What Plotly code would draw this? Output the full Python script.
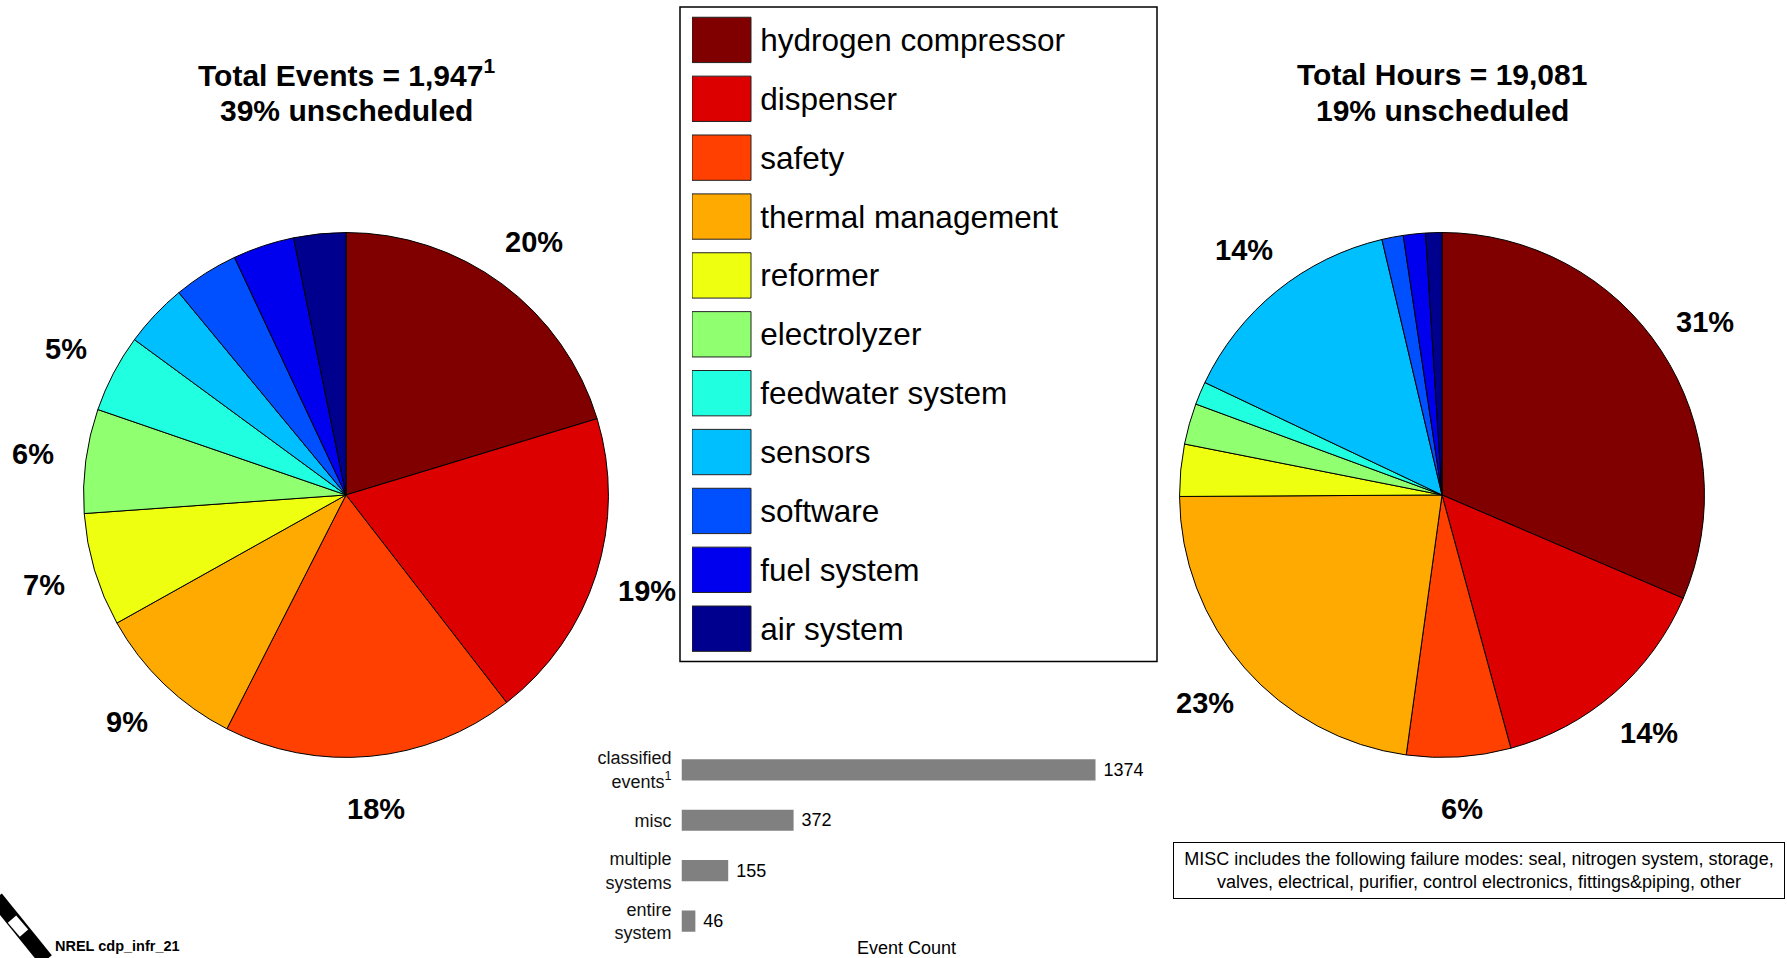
import math
import plotly.graph_objects as go

W, H = 1787, 958

categories = ["hydrogen compressor", "dispenser", "safety", "thermal management",
              "reformer", "electrolyzer", "feedwater system", "sensors",
              "software", "fuel system", "air system"]
colors = ["#800000", "#DD0000", "#FF4000", "#FFAA00", "#EFFF10", "#90FF70",
          "#20FFDF", "#00BFFF", "#0050FF", "#0000EF", "#00008F"]

# classified events by subsystem (left pie)
events = [279, 264, 247, 129, 96, 88, 66, 54, 55, 52, 44]
# maintenance hours by subsystem (right pie)
hours = [5990, 2730, 1220, 4330, 610, 480, 270, 2720, 250, 260, 190]

bar_labels = ["classified<br>events<sup>1</sup>", "misc", "multiple<br>systems", "entire<br>system"]
bar_values = [1374, 372, 155, 46]

FONT = "Liberation Sans, Arial, sans-serif"

fig = go.Figure()

# pie geometry (pixels)
R = 263
pies = [(events, 346, 496), (hours, 1442, 496)]

for vals, cx, cy in pies:
    fig.add_trace(go.Pie(
        labels=categories, values=vals, sort=False, direction="clockwise", rotation=0,
        marker=dict(colors=colors, line=dict(color="black", width=1)),
        textinfo="none", hoverinfo="label+percent", showlegend=False,
        domain=dict(x=[(cx - R) / W, (cx + R) / W], y=[1 - (cy + R) / H, 1 - (cy - R) / H]),
    ))
    total = sum(vals)
    cum = 0
    for v in vals:
        frac = v / total
        mid = (cum + frac / 2) * 2 * math.pi
        cum += frac
        pct = round(frac * 100)
        if pct < 5:
            continue
        d = 1.2 * R
        px = cx + d * math.sin(mid)
        py = cy - d * math.cos(mid)
        fig.add_annotation(x=px / W, y=1 - py / H, xref="paper", yref="paper",
                           text=f"{pct}%", showarrow=False, xanchor="center", yanchor="middle",
                           font=dict(family=FONT, size=29, color="black", weight="bold"))

# titles (one annotation per line)
titles = [(346, [73, 110.5], ["Total Events = 1,947<sup>1</sup>", "39% unscheduled"]),
          (1442, [75, 110.5], ["Total Hours = 19,081", "19% unscheduled"])]
for tx, tys, lines in titles:
    for ty, line in zip(tys, lines):
        fig.add_annotation(x=tx / W, y=1 - ty / H, xref="paper", yref="paper", showarrow=False,
                           xanchor="center", yanchor="middle", text=line,
                           font=dict(family=FONT, size=30, color="black", weight="bold"))

# event count bar chart
fig.add_trace(go.Bar(
    x=bar_values, y=bar_labels, orientation="h", xaxis="x2", yaxis="y2",
    marker=dict(color="#808080", line=dict(width=0)), width=0.42,
    text=["\u00a0" + str(v) for v in bar_values], textposition="outside", cliponaxis=False,
    constraintext="none",
    textfont=dict(family=FONT, size=18, color="black"), showlegend=False,
))

# legend drawn as a bar trace of swatches
fig.add_trace(go.Bar(
    x=[1] * len(categories), y=categories, orientation="h", xaxis="x3", yaxis="y3",
    marker=dict(color=colors, line=dict(color="#222222", width=1)), width=0.77,
    text=["\u2009" + c for c in categories], textposition="outside", cliponaxis=False,
    constraintext="none",
    textfont=dict(family=FONT, size=31.5, color="black"), showlegend=False, hoverinfo="skip",
))

fig.update_layout(
    width=W, height=H, margin=dict(l=0, r=0, t=0, b=0),
    paper_bgcolor="white", plot_bgcolor="white",
    xaxis2=dict(domain=[681.5 / W, 1157 / W], range=[0, 1374 * 475.5 / 414], anchor="y2",
                showgrid=False, zeroline=False, showticklabels=False, showline=False),
    yaxis2=dict(domain=[1 - 943.2 / H, 1 - 743.7 / H], range=[3.4, -0.55], anchor="x2",
                type="category", showgrid=False, zeroline=False, showline=False,
                ticks="", ticklabelstandoff=9,
                tickfont=dict(family=FONT, size=18, color="#111111")),
    xaxis3=dict(domain=[692 / W, 1157 / W], range=[0, 465 / 59], anchor="y3",
                visible=False),
    yaxis3=dict(domain=[1 - 659.5 / H, 1 - 10.5 / H], range=[10.5, -0.5], anchor="x3",
                type="category", visible=False),
    showlegend=False,
)

# legend frame
fig.add_shape(type="rect", xref="paper", yref="paper",
              x0=680 / W, x1=1157 / W, y0=1 - 663 / H, y1=1 - 7 / H,
              line=dict(color="black", width=1.5), fillcolor="rgba(0,0,0,0)")

# axis title for the bar chart
fig.add_annotation(x=907 / W, y=1 - 950 / H, xref="paper", yref="paper", showarrow=False,
                   xanchor="center", yanchor="middle",
                   text="Event Count", font=dict(family=FONT, size=18, color="black"))

# MISC note box
fig.add_annotation(x=(1174 + 1784) / 2 / W, y=1 - 872 / H, xref="paper", yref="paper",
                   showarrow=False, xanchor="center", yanchor="middle",
                   text="MISC includes the following failure modes: seal, nitrogen system, storage,<br>"
                        "valves, electrical, purifier, control electronics, fittings&piping, other",
                   font=dict(family=FONT, size=18, color="black"),
                   bordercolor="black", borderwidth=1, borderpad=6, bgcolor="white",
                   width=598, align="center")

# footer label and logo mark
fig.add_annotation(x=53 / W, y=1 - 948 / H, xref="paper", yref="paper", showarrow=False,
                   xanchor="left", yanchor="middle", text="NREL cdp_infr_21",
                   font=dict(family=FONT, size=14.5, color="black", weight="bold"))
fig.add_shape(type="line", xref="paper", yref="paper",
              x0=-4 / W, y0=1 - 900 / H, x1=46 / W, y1=1 - 962 / H,
              line=dict(color="black", width=15))
fig.add_shape(type="line", xref="paper", yref="paper",
              x0=12 / W, y0=1 - 921 / H, x1=24 / W, y1=1 - 935 / H,
              line=dict(color="white", width=11))

fig.write_html("out.html", config={"displayModeBar": False},
               post_script="document.body.style.margin='0';document.body.style.overflow='hidden';")
